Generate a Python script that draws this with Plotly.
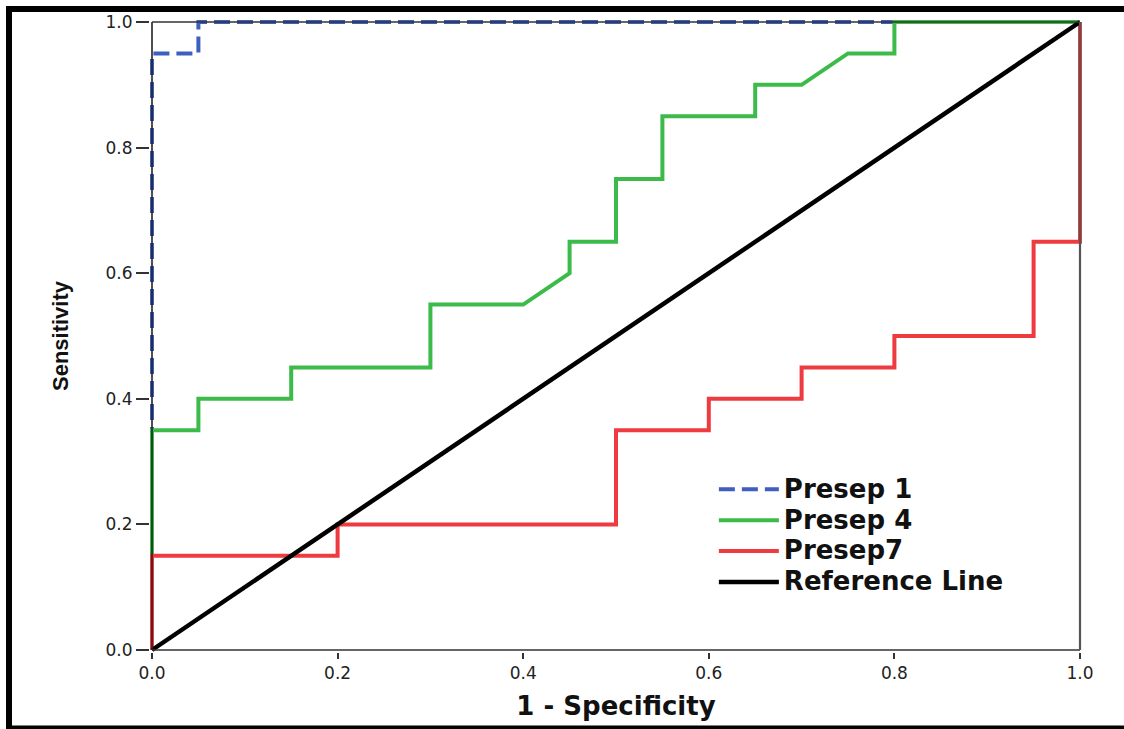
import plotly.graph_objects as go

# ROC curve data (1 - Specificity, Sensitivity)
p1_x = [0, 0, 0.05, 0.05, 1]
p1_y = [0, 0.95, 0.95, 1, 1]

p4_x = [0, 0, 0.05, 0.05, 0.15, 0.15, 0.3, 0.3, 0.4, 0.45, 0.45, 0.5, 0.5,
        0.55, 0.55, 0.65, 0.65, 0.7, 0.75, 0.8, 0.8, 1]
p4_y = [0, 0.35, 0.35, 0.4, 0.4, 0.45, 0.45, 0.55, 0.55, 0.6, 0.65, 0.65, 0.75,
        0.75, 0.85, 0.85, 0.9, 0.9, 0.95, 0.95, 1, 1]

p7_x = [0, 0, 0.2, 0.2, 0.5, 0.5, 0.6, 0.6, 0.7, 0.7, 0.8, 0.8, 0.95, 0.95, 1, 1]
p7_y = [0, 0.15, 0.15, 0.2, 0.2, 0.35, 0.35, 0.4, 0.4, 0.45, 0.45, 0.5, 0.5, 0.65, 0.65, 1]

ref_x = [0, 1]
ref_y = [0, 1]

tick_vals = [0.0, 0.2, 0.4, 0.6, 0.8, 1.0]
tick_text = ["0.0", "0.2", "0.4", "0.6", "0.8", "1.0"]

names = ["Presep 1", "Presep 4", "Presep7", "Reference Line"]


def big(s):
    return "<span style='font-size:26px'>" + s + "</span>"


fig = go.Figure()
fig.add_trace(go.Scatter(x=p1_x, y=p1_y, mode="lines", name=big(names[0]),
                         line=dict(color="#3f5ebd", width=4, dash="16px,7px")))
fig.add_trace(go.Scatter(x=p4_x, y=p4_y, mode="lines", name=big(names[1]),
                         line=dict(color="#3cba4a", width=4)))
fig.add_trace(go.Scatter(x=p7_x, y=p7_y, mode="lines", name=big(names[2]),
                         line=dict(color="#ee3b40", width=4)))
fig.add_trace(go.Scatter(x=ref_x, y=ref_y, mode="lines", name=big(names[3]),
                         line=dict(color="#000000", width=4.5)))

W, H = 1124, 729
L, R, T, B = 150, 42, 20, 77
padx = 2 / 928
pady = 2 / 628
pw = W - L - R
ph = H - T - B

fig.update_layout(
    width=W, height=H,
    margin=dict(l=L, r=R, t=T, b=B, pad=0),
    plot_bgcolor="white", paper_bgcolor="white",
    showlegend=True,
    legend=dict(
        x=0.605, y=0.29, xanchor="left", yanchor="top",
        font=dict(family="DejaVu Sans", size=21.5, color="#111", weight="bold"),
        itemwidth=60, bgcolor="rgba(0,0,0,0)", tracegroupgap=0,
    ),
    xaxis=dict(
        range=[-padx, 1 + padx], tickvals=tick_vals, ticktext=tick_text,
        showgrid=False, zeroline=False, showline=False,
        ticks="outside", ticklen=6, tickwidth=1.5, tickcolor="#333",
        tickfont=dict(family="DejaVu Sans", size=17, color="#222"),
        title=dict(text="1 - Specificity", standoff=14,
                   font=dict(family="DejaVu Sans", size=26, color="#111", weight="bold")),
    ),
    yaxis=dict(
        range=[-pady, 1 + pady], tickvals=tick_vals, ticktext=tick_text,
        showgrid=False, zeroline=False, showline=False,
        ticks="outside", ticklen=13, tickwidth=1.5, tickcolor="#333",
        tickfont=dict(family="DejaVu Sans", size=17, color="#222"),
        title=dict(text="Sensitivity", standoff=30,
                   font=dict(family="Liberation Sans", size=22, color="#111", weight="bold")),
    ),
)

# plot frame (axis box)
fig.add_shape(type="line", xref="x", yref="y", x0=0, y0=0, x1=1, y1=0,
              line=dict(color="#333", width=1.6), layer="above")
fig.add_shape(type="line", xref="x", yref="y", x0=0, y0=0, x1=0, y1=1,
              line=dict(color="#222", width=1.6), layer="above")
fig.add_shape(type="line", xref="x", yref="y", x0=0, y0=1, x1=1, y1=1,
              line=dict(color="#333", width=1.6), layer="above")
fig.add_shape(type="line", xref="x", yref="y", x0=1, y0=0, x1=1, y1=1,
              line=dict(color="#555", width=2.2), layer="above")

# outer black border of the image
fig.add_shape(type="rect", xref="paper", yref="paper",
              x0=(9 - L) / pw, x1=(1135 - L) / pw,
              y0=-(728.5 - (T + ph)) / ph, y1=1 + (T - 9) / ph,
              line=dict(color="black", width=6), fillcolor="rgba(0,0,0,0)",
              layer="above")

fig.write_html(
    "out.html",
    config={"displayModeBar": False},
    post_script="document.body.style.margin='0';document.body.style.overflow='hidden';",
)
